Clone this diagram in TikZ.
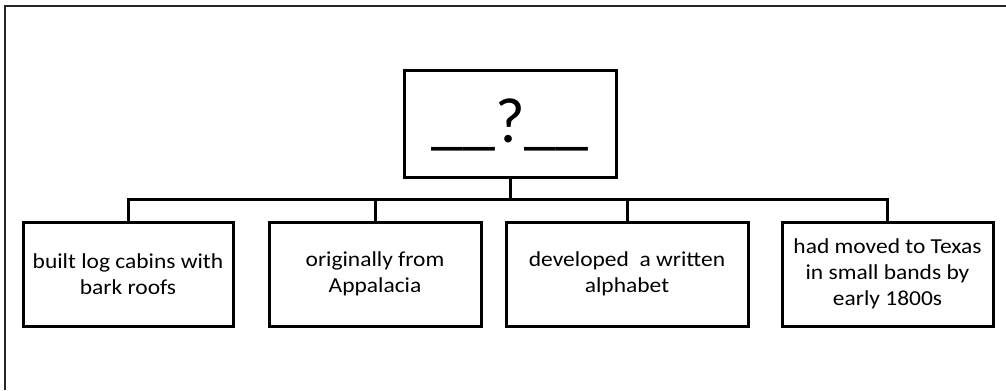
\documentclass[tikz,border=0pt]{standalone}
\usepackage{fontspec}
\setmainfont{Carlito}
\newfontfamily\boxfont[FakeStretch=1.1]{Carlito}

\tikzset{
  fact/.style={draw, black, line width=2.25pt, align=center, inner sep=2pt, minimum height=78pt, font=\boxfont\fontsize{16}{19.5}\selectfont},
  link/.style={black, line width=2.25pt},
}

\begin{document}
\begin{tikzpicture}[x=0.75pt, y=0.75pt]
\useasboundingbox (0,0) rectangle (1006,390);
%\fill[yellow!20] (0,0) rectangle (1006,390);
\draw[black!85, line width=1.5pt] (5,0) -- (5,384) -- (1006,384);
\node[fact, minimum width=159pt, minimum height=79.5pt, text height=30pt, text depth=3pt, font=\fontsize{48}{50}\selectfont] (topic) at (510,266) {\_\_?\_\_};
\node[fact, minimum width=157.5pt] (cabins) at (128,116) {built log cabins with\\bark roofs};
\node[fact, minimum width=159pt] (origin) at (375,116) {originally from\\Appalacia};
\node[fact, minimum width=181.5pt] (alphabet) at (627,116) {developed~ a written\\alphabet};
\node[fact, minimum width=158.25pt] (texas) at (887.5,116) {had moved to Texas\\in small bands by\\early 1800s};
\draw[link] (topic.south) -- ++(0,-21) -| (cabins.north);
\draw[link] (topic.south) -- ++(0,-21) -| (origin.north);
\draw[link] (topic.south) -- ++(0,-21) -| (alphabet.north);
\draw[link] (topic.south) -- ++(0,-21) -| (texas.north);
\end{tikzpicture}
\end{document}
